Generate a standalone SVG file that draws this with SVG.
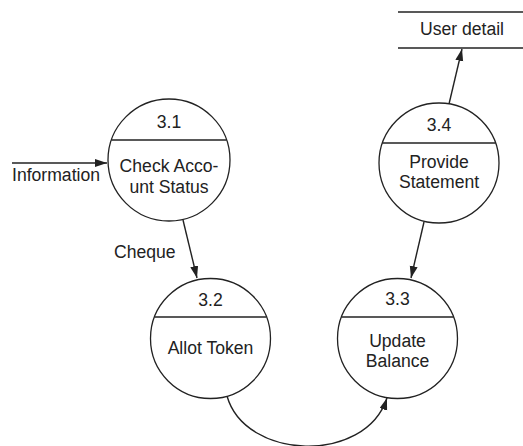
<svg xmlns="http://www.w3.org/2000/svg" width="523" height="446" viewBox="0 0 523 446">
<style>
.c{fill:#fff;stroke:#222;stroke-width:1.3}
.l{stroke:#222;stroke-width:1.3;fill:none}
.a{stroke:#222;stroke-width:1.4;fill:none;marker-end:url(#ah)}
text{font-family:"Liberation Sans",Arial,sans-serif;font-size:17.6px;fill:#222}
.m{text-anchor:middle}
</style>
<defs>
<marker id="ah" markerWidth="13" markerHeight="9" refX="12" refY="4" orient="auto" markerUnits="userSpaceOnUse">
<path d="M0,0 L12,4 L0,8 z" fill="#222"/>
</marker>
</defs>
<rect width="523" height="446" fill="#fff"/>
<g id="connectors">
<line class="a" x1="12" y1="163" x2="107" y2="163"/>
<line class="a" x1="183" y1="220" x2="197" y2="278"/>
<line class="a" x1="449" y1="104" x2="462" y2="49"/>
<line class="a" x1="424" y1="222" x2="411" y2="278"/>
<path class="a" d="M227,396 C245,460 365,465 387,398"/>
</g>
<g id="p31">
<circle class="c" cx="169" cy="160" r="61"/>
<line class="l" x1="111.4" y1="140" x2="226.6" y2="140"/>
<text class="m" x="169" y="128">3.1</text>
<text class="m" x="169" y="172">Check Acco-</text>
<text class="m" x="169" y="193">unt Status</text>
</g>
<g id="p32">
<circle class="c" cx="210.5" cy="338.5" r="60"/>
<line class="l" x1="154.5" y1="317" x2="266.5" y2="317"/>
<text class="m" x="210.5" y="306">3.2</text>
<text class="m" x="210.5" y="354">Allot Token</text>
</g>
<g id="p33">
<circle class="c" cx="397.5" cy="338.5" r="60"/>
<line class="l" x1="341.5" y1="317" x2="453.5" y2="317"/>
<text class="m" x="397.5" y="305">3.3</text>
<text class="m" x="397.5" y="347">Update</text>
<text class="m" x="397.5" y="367">Balance</text>
</g>
<g id="p34">
<circle class="c" cx="439" cy="163" r="60"/>
<line class="l" x1="382.4" y1="143" x2="495.6" y2="143"/>
<text class="m" x="439" y="131">3.4</text>
<text class="m" x="439" y="168">Provide</text>
<text class="m" x="439" y="188">Statement</text>
</g>
<g id="store">
<line class="l" x1="398" y1="12" x2="523" y2="12"/>
<line class="l" x1="398" y1="48" x2="523" y2="48"/>
<text class="m" x="462" y="35">User detail</text>
</g>
<g id="labels">
<text x="12" y="181">Information</text>
<text x="114" y="258">Cheque</text>
</g>
</svg>
